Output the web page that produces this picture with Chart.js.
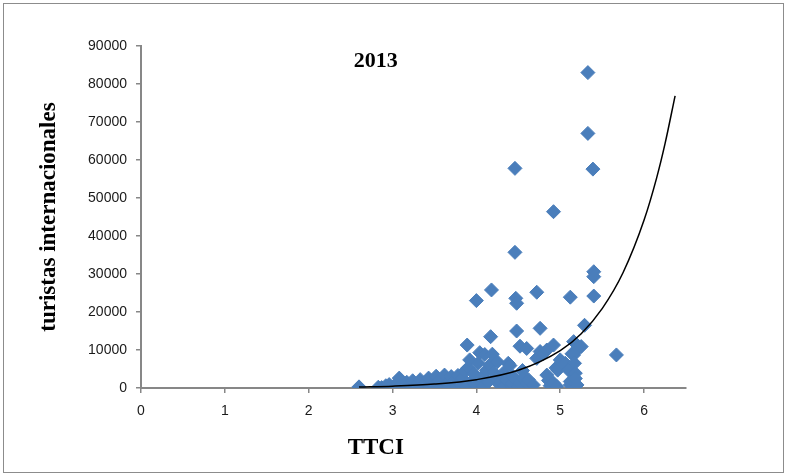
<!DOCTYPE html>
<html>
<head>
<meta charset="utf-8">
<script src="https://cdn.jsdelivr.net/npm/chart.js@4.4.1/dist/chart.umd.min.js"></script>
<style>
  html, body { margin: 0; padding: 0; background: #ffffff; }
  canvas { display: block; }
</style>
</head>
<body>
<canvas id="chart" width="787" height="476"></canvas>
<script>
// TTCI score of each country (x) and international tourist arrivals, thousands (y)
const ttci = [
  2.60, 2.83, 2.87, 2.92, 2.96, 3.00, 3.05, 3.08, 3.10, 3.14,
  3.17, 3.20, 3.24, 3.27, 3.30, 3.33, 3.36, 3.40, 3.43, 3.45,
  3.48, 3.52, 3.55, 3.58, 3.60, 3.62, 3.65, 3.68, 3.70, 3.73,
  3.76, 3.78, 3.80, 3.83, 3.86, 3.88, 3.90, 3.92, 3.89, 3.95,
  3.97, 3.99, 4.00, 4.02, 4.04, 4.06, 4.08, 4.10, 4.12, 4.14,
  4.17, 4.18, 4.16, 4.19, 4.21, 4.23, 4.25, 4.27, 4.29, 4.32,
  4.34, 4.36, 4.38, 4.40, 4.42, 4.44, 4.46, 4.46, 4.47, 4.48,
  4.48, 4.50, 4.52, 4.52, 4.55, 4.56, 4.60, 4.60, 4.62, 4.68,
  4.72, 4.72, 4.76, 4.76, 4.80, 4.84, 4.84, 4.86, 4.88, 4.92,
  4.92, 4.92, 4.95, 4.96, 4.97, 5.00, 5.02, 5.06, 5.10, 5.12,
  5.12, 5.12, 5.14, 5.16, 5.16, 5.17, 5.18, 5.18, 5.20, 5.22,
  5.25, 5.29, 5.33, 5.33, 5.39, 5.40, 5.40, 5.40, 5.67
];
const arrivals = [
  300, 200, 100, 600, 900, 300, 1200, 2600, 700, 100,
  1500, 800, 1900, 300, 1200, 2200, 600, 1500, 2600, 200,
  1000, 3100, 1800, 400, 2500, 3400, 1200, 100, 3000, 2000,
  500, 3300, 1400, 2600, 4400, 300, 5300, 7400, 11300, 1900,
  3700, 800, 23000, 6500, 9300, 2800, 300, 8800, 4600, 1600,
  13500, 25800, 6000, 8900, 4000, 2500, 6900, 1000, 1700, 3900,
  500, 2100, 6500, 5900, 1200, 3000, 57800, 35700, 23600, 22300,
  15000, 300, 11000, 1300, 4600, 2500, 10400, 1200, 2200, 800,
  25200, 7800, 15700, 9600, 9100, 10000, 3400, 2000, 600, 46400,
  11300, 1300, 5300, 400, 4700, 7400, 6800, 6500, 4700, 23900,
  1700, 800, 9000, 12200, 8700, 6500, 3900, 2500, 800, 10500,
  10900, 16500, 83000, 67000, 57600, 30600, 29300, 24200, 8700
];

// Exponential trend curve, sampled along the TTCI axis
const trendX = [2.60, 3.00, 3.50, 4.00, 4.50, 5.00, 5.25, 5.50, 5.75, 6.00, 6.15, 6.25, 6.37];
const trendY = [270, 490, 1040, 2200, 4650, 9850, 14300, 20900, 30400, 44200, 55300, 64300, 76900];

const chartTitle = '2013';
const xTitle = 'TTCI';
const yTitle = 'turistas internacionales';

const points = ttci.map((v, i) => ({ x: v, y: arrivals[i] }));
const trend = trendX.map((v, i) => ({ x: v, y: trendY[i] }));

const serif = '"Liberation Serif", "Times New Roman", serif';
const tickFont = { family: '"Liberation Sans", Arial, sans-serif', size: 14 };
const axisGray = '#878787';

const frameAndText = {
  id: 'frameAndText',
  beforeDraw(chart) {
    const ctx = chart.ctx;
    ctx.save();
    ctx.fillStyle = '#ffffff';
    ctx.fillRect(0, 0, chart.width, chart.height);
    ctx.restore();
  },
  afterDraw(chart) {
    const { ctx, scales: { x, y } } = chart;
    ctx.save();
    ctx.strokeStyle = '#8c8c8c';
    ctx.lineWidth = 1;
    ctx.strokeRect(3.5, 3.5, 780, 469);
    ctx.fillStyle = '#000000';
    ctx.textAlign = 'center';
    ctx.textBaseline = 'middle';
    ctx.font = 'bold 22px ' + serif;
    ctx.fillText(chartTitle, x.getPixelForValue(2.8), y.getPixelForValue(86000));
    ctx.font = 'bold 23px ' + serif;
    ctx.fillText(xTitle, x.getPixelForValue(2.8), 448);
    ctx.restore();
  }
};

new Chart(document.getElementById('chart'), {
  type: 'scatter',
  data: {
    datasets: [
      {
        label: 'Exponencial',
        data: trend,
        showLine: true,
        borderColor: '#000000',
        borderWidth: 1.5,
        pointRadius: 0,
        cubicInterpolationMode: 'monotone',
        fill: false
      },
      {
        label: 'turistas internacionales',
        data: points,
        pointStyle: 'rectRot',
        pointRadius: 7,
        backgroundColor: '#4A7EBB',
        borderColor: '#4A7EBB',
        borderWidth: 1
      }
    ]
  },
  options: {
    responsive: false,
    animation: false,
    devicePixelRatio: 1,
    layout: { padding: { left: 0, top: 46, right: 101, bottom: 0 } },
    plugins: {
      legend: { display: false },
      tooltip: { enabled: false },
      title: { display: false }
    },
    scales: {
      x: {
        type: 'linear',
        min: 0,
        max: 6.5,
        ticks: { stepSize: 1, includeBounds: false, font: tickFont, color: '#1a1a1a', padding: 10 },
        grid: { drawOnChartArea: false, drawTicks: true, tickLength: 5, color: axisGray, lineWidth: 1.5 },
        border: { color: axisGray, width: 2 },
        afterFit(scale) { scale.height = 88; }
      },
      y: {
        type: 'linear',
        min: 0,
        max: 90000,
        ticks: {
          stepSize: 10000,
          font: tickFont,
          color: '#1a1a1a',
          padding: 9,
          callback: (value) => String(value)
        },
        grid: { drawOnChartArea: false, drawTicks: true, tickLength: 5, color: axisGray, lineWidth: 1.5 },
        border: { color: axisGray, width: 2 },
        title: {
          display: true,
          text: yTitle,
          color: '#000000',
          font: { family: serif, size: 23, weight: 'bold', lineHeight: 1.2 },
          padding: { top: 35, bottom: 0 }
        },
        afterFit(scale) { scale.width = 141; }
      }
    }
  },
  plugins: [frameAndText]
});
</script>
</body>
</html>
